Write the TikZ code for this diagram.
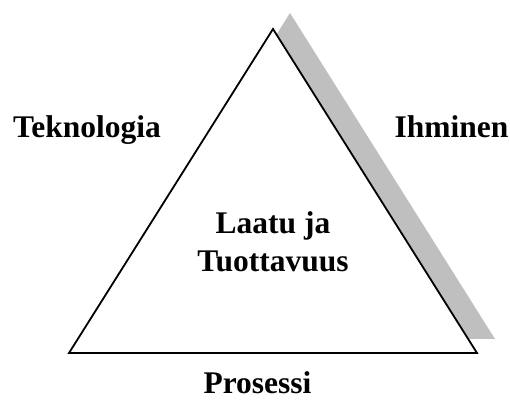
\documentclass[tikz,border=0pt]{standalone}
\usepackage{fontspec}
\setmainfont{Liberation Serif}
\usepackage{tikz}
\usetikzlibrary{positioning, calc}
\pgfdeclarelayer{bg}
\pgfsetlayers{bg,main}

\begin{document}
\begin{tikzpicture}[x=1pt,y=-1pt]
    \useasboundingbox (0,0) rectangle (510,401);
    \tikzset{lbl/.style={font=\fontsize{31.5}{38}\selectfont\bfseries, inner sep=0pt}}

    \coordinate (top) at (273,29);
    \coordinate (left) at (69,353);
    \coordinate (right) at (477,353);

    \node [lbl, anchor=base] (tek) at (87,137) { Teknologia };
    \node [lbl, anchor=base] (ihm) at (451.5,137) { Ihminen };
    \node [lbl, anchor=base] (pro) at (257.5,393) { Prosessi };

    \begin{pgfonlayer}{bg}    % shadow behind the triangle
        \fill [black!25] ($(top)+(17,-16)$) -- ($(left)+(17,-15)$) -- ($(right)+(18,-14)$) -- cycle;
    \end{pgfonlayer}
    \draw [fill=white, line width=1.8pt] (top) -- (left) -- (right) -- cycle;

    \node [lbl, align=center] (laatu) at (273,242) { Laatu ja\\Tuottavuus };
\end{tikzpicture}
\end{document}
